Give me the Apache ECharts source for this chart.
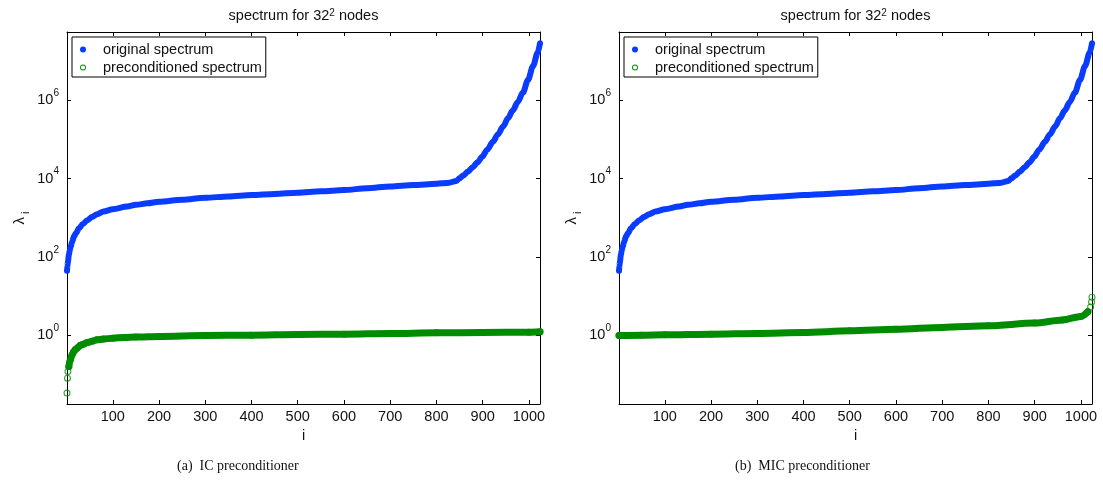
<!DOCTYPE html>
<html><head><meta charset="utf-8">
<script src="https://cdn.jsdelivr.net/npm/echarts@6/dist/echarts.min.js"></script>
<style>html,body{margin:0;padding:0;background:#fff}#c{width:1103px;height:480px}</style>
</head><body><div id="c"></div>
<script>
// ---- data ----
const xTicks = [100, 200, 300, 400, 500, 600, 700, 800, 900, 1000];
const yTicks = [1, 1e2, 1e4, 1e6];
const seriesNames = ['original spectrum', 'preconditioned spectrum'];
const titleTexts = ['spectrum for 32{s|2} nodes', 'spectrum for 32{s|2} nodes'];
const captions = ['(a)  IC preconditioner', '(b)  MIC preconditioner'];

// original spectrum (same in both panels)
const blueIdx = [1,2,3,5,7,9,12,16,20,27,35,45,55,66,80,100,131,150,175,200,250,300,350,400,450,500,550,600,650,700,750,800,825,843,850,858,868,879,889,899,910,922,933,944,955,965,976,987,998,1009,1019,1024];
const blueVal = [44,60,76,112,148,182,240,331,398,537,692,871,1047,1230,1445,1660,1950,2140,2340,2570,2880,3240,3510,3800,4070,4370,4730,5130,5690,6310,6840,7410,7760,8710,10230,12020,15140,19950,26300,36300,54950,87100,134900,213800,354800,549500,912000,1585000,3311000,7586000,16600000,28840000];
// preconditioned spectrum, IC
const icIdx = [1,2,3,5,7,12,15,19,24,30,36,45,55,66,80,100,125,150,200,300,400,500,600,700,800,900,1000,1024];
const icVal = [0.033,0.079,0.117,0.158,0.214,0.316,0.372,0.427,0.479,0.55,0.589,0.646,0.70,0.759,0.794,0.838,0.871,0.891,0.925,0.977,1.0,1.04,1.06,1.10,1.15,1.17,1.19,1.22];
// preconditioned spectrum, MIC
const micIdx = [1,50,100,200,300,400,500,600,700,800,900,960,1000,1015,1021,1023,1024];
const micVal = [0.98,1.0,1.02,1.06,1.11,1.17,1.29,1.41,1.58,1.74,2.04,2.45,3.02,3.98,5.25,7.08,9.33];

// ---- chart ----
const SANS = 'Liberation Sans, Arial, Helvetica, sans-serif';
const SERIF = 'Liberation Serif, Times New Roman, serif';
const BLUE = '#0a3cff';
const GREEN = '#008c00';
const RING = 'path://M0,5A5,5 0 1,0 10,5A5,5 0 1,0 0,5Z M1.5,5A3.5,3.5 0 1,1 8.5,5A3.5,3.5 0 1,1 1.5,5Z';
const Y_MIN = 0.0174, Y_MAX = 5.6e7;
const grids = [{left: 67, top: 32, width: 473, height: 372}, {left: 619, top: 32, width: 473, height: 372}];
const pairs = (idx, val) => idx.map((x, k) => [x, val[k]]);
const green = [pairs(icIdx, icVal), pairs(micIdx, micVal)];
const greenLine = [green[0].slice(3), green[1].slice(0, green[1].length - 3)];
const blue = pairs(blueIdx, blueVal);

const axisLine = {show: true, onZero: false, lineStyle: {color: '#000', width: 1}};
const xAxis = [], yAxis = [], series = [], legend = [], graphic = [];
grids.forEach((g, gi) => {
  xAxis.push({gridIndex: gi, type: 'value', min: 1, max: 1024, position: 'bottom',
    axisLine, splitLine: {show: false},
    axisTick: {inside: true, length: 4, customValues: xTicks, lineStyle: {color: '#000'}},
    axisLabel: {customValues: xTicks, fontSize: 14.5, color: '#111', margin: 5, fontFamily: SANS,
      formatter: v => String(v)},
    name: 'i', nameLocation: 'middle', nameGap: 20,
    nameTextStyle: {fontSize: 14.5, color: '#111', fontFamily: SANS}});
  xAxis.push({gridIndex: gi, type: 'value', min: 1, max: 1024, position: 'top',
    axisLine, splitLine: {show: false},
    axisTick: {inside: true, length: 4, customValues: xTicks, lineStyle: {color: '#000'}},
    axisLabel: {show: false}});
  yAxis.push({gridIndex: gi, type: 'log', logBase: 10, min: Y_MIN, max: Y_MAX, position: 'left',
    axisLine, splitLine: {show: false},
    axisTick: {inside: true, length: 4, customValues: yTicks, lineStyle: {color: '#000'}},
    axisLabel: {customValues: yTicks, margin: 8, fontFamily: SANS,
      formatter: v => '{b|10}{s|' + Math.round(Math.log10(v)) + '}',
      rich: {b: {fontSize: 14.5, lineHeight: 24, color: '#111', fontFamily: SANS},
             s: {fontSize: 10, lineHeight: 10, verticalAlign: 'top', color: '#111', fontFamily: SANS}}},
    name: '{a|λ}{b| i}', nameLocation: 'middle', nameGap: 36, nameRotate: 90,
    nameTextStyle: {fontFamily: SANS, rich: {
      a: {fontSize: 15, lineHeight: 22, color: '#111', fontFamily: SANS},
      b: {fontSize: 11, lineHeight: 12, verticalAlign: 'bottom', color: '#111', fontFamily: SANS}}}});
  yAxis.push({gridIndex: gi, type: 'log', logBase: 10, min: Y_MIN, max: Y_MAX, position: 'right',
    axisLine, splitLine: {show: false},
    axisTick: {inside: true, length: 4, customValues: yTicks, lineStyle: {color: '#000'}},
    axisLabel: {show: false}});
  const xi = gi * 2, yi = gi * 2;
  series.push({type: 'line', name: seriesNames[0], xAxisIndex: xi, yAxisIndex: yi, data: blue,
    symbol: 'none', showSymbol: false, z: 2, silent: true, smooth: 0.3, smoothMonotone: 'x',
    lineStyle: {color: BLUE, width: 6, cap: 'round', join: 'round'}, itemStyle: {color: BLUE}});
  series.push({type: 'scatter', name: seriesNames[0], xAxisIndex: xi, yAxisIndex: yi, data: blue,
    symbol: 'circle', symbolSize: 5, z: 3, silent: true, itemStyle: {color: BLUE}});
  series.push({type: 'line', name: seriesNames[1], xAxisIndex: xi, yAxisIndex: yi, data: greenLine[gi],
    symbol: 'none', showSymbol: false, z: 2, silent: true, smooth: 0.3, smoothMonotone: 'x',
    lineStyle: {color: GREEN, width: 7, cap: 'round', join: 'round'}, itemStyle: {color: GREEN}});
  series.push({type: 'scatter', name: seriesNames[1], xAxisIndex: xi, yAxisIndex: yi, data: green[gi],
    symbol: RING, symbolSize: 7, z: 3, silent: true, itemStyle: {color: GREEN}});
  legend.push({orient: 'vertical', left: gi ? 624 : 72, top: 37, selectedMode: false,
    data: [{name: seriesNames[0], icon: 'circle'}, {name: seriesNames[1], icon: RING}],
    itemWidth: 30, itemHeight: 6, itemGap: 3, padding: [5, 4, 2, 8],
    borderColor: '#000', borderWidth: 1, backgroundColor: '#fff',
    textStyle: {fontSize: 14.5, color: '#111', fontFamily: SANS}});
  graphic.push({type: 'text', x: g.left + g.width / 2, y: 16, silent: true,
    style: {text: titleTexts[gi], align: 'center', verticalAlign: 'middle', fill: '#111',
      fontSize: 14.5, fontFamily: SANS,
      rich: {s: {fontSize: 10, lineHeight: 10, verticalAlign: 'top', fontFamily: SANS, fill: '#111'}}}});
});
graphic.push({type: 'text', x: 177, y: 466, silent: true,
  style: {text: captions[0], align: 'left', verticalAlign: 'middle', fill: '#111', fontSize: 14, fontFamily: SERIF}});
graphic.push({type: 'text', x: 735, y: 466, silent: true,
  style: {text: captions[1], align: 'left', verticalAlign: 'middle', fill: '#111', fontSize: 14, fontFamily: SERIF}});

const chart = echarts.init(document.getElementById('c'), null, {renderer: 'canvas'});
chart.setOption({animation: false, backgroundColor: '#fff', grid: grids, xAxis, yAxis, series, legend, graphic});
</script></body></html>
